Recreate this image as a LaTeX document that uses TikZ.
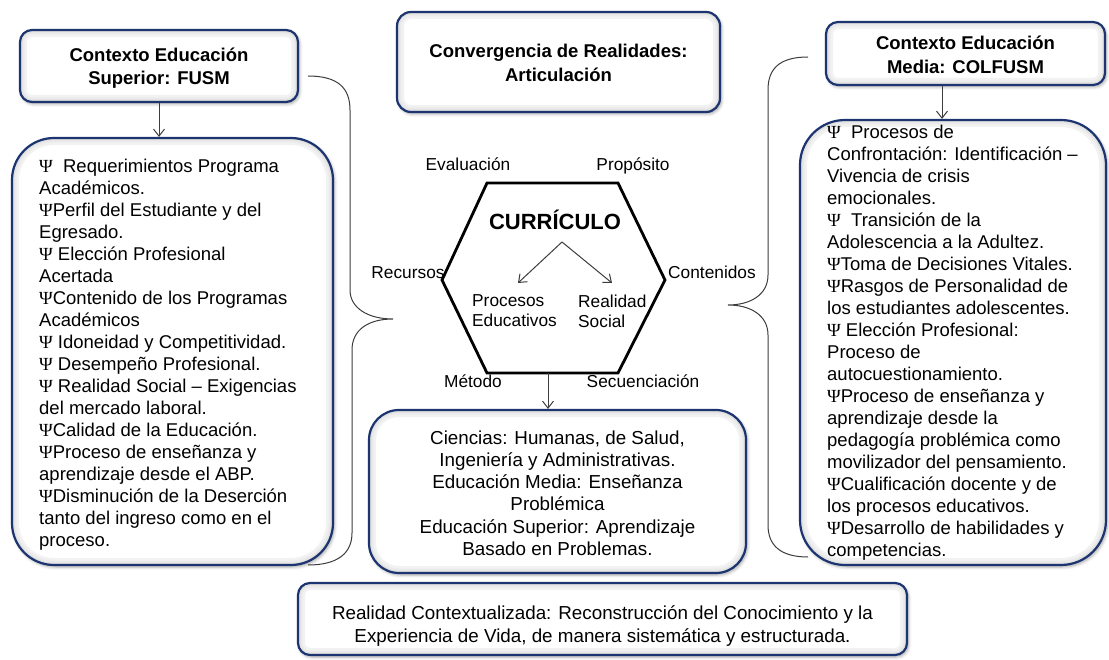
\documentclass[tikz,border=0pt]{standalone}
\usepackage{fontspec}
\setmainfont{Liberation Sans}
\newfontfamily\psifont{Liberation Serif}
\usetikzlibrary{arrows.meta,shadows.blur}
\definecolor{navy}{RGB}{28,52,112}
\definecolor{linegray}{RGB}{60,60,60}
\newcommand\psich{{\psifont Ψ}}
\tikzset{
  box/.style={draw=navy, line width=2.2pt, fill=white, rounded corners=#1, inner sep=0pt,
    blur shadow={shadow xshift=1.5pt, shadow yshift=-2pt, shadow blur radius=3pt, shadow opacity=35},
    path picture={\foreach \w/\c in {14/5,9/8,5/12}{\draw[line width=\w pt, black!\c, rounded corners=#1] (path picture bounding box.south west) rectangle (path picture bounding box.north east);}}},
  titletext/.style={font=\bfseries\fontsize{18.5}{23.5}\selectfont, align=center, inner sep=0pt},
  bodytext/.style={font=\fontsize{18.5}{22}\selectfont, align=left, inner sep=0pt},
  centertext/.style={font=\fontsize{18.8}{22.2}\selectfont, align=center, inner sep=0pt},
  hexlabel/.style={font=\fontsize{17.3}{20}\selectfont, inner sep=0pt, anchor=base},
  arr/.style={draw=linegray, line width=1pt, -{Straight Barb[length=7pt,width=11pt]}},
  bracepath/.style={draw=linegray, line width=1pt},
  hexline/.style={draw=black, line width=2.8pt, line join=miter}
}
\begin{document}
\begin{tikzpicture}[x=1pt,y=-1pt]
\useasboundingbox (0,0) rectangle (1109,660);

% top boxes
\node[box=12pt, minimum width=278pt, minimum height=72pt] (fusm) at (159,66) {};
\node[titletext] (fusmtxt) at (159,68) {Contexto Educación\\Superior: FUSM};
\node[box=14pt, minimum width=323pt, minimum height=100pt] (conv) at (558.5,62) {};
\node[titletext] (convtxt) at (558.5,63) {Convergencia de Realidades:\\Articulación};
\node[box=12pt, minimum width=279pt, minimum height=63pt] (colf) at (965.5,53.5) {};
\node[titletext] (colftxt) at (965.5,55) {Contexto Educación\\Media: COLFUSM};

% big boxes
\node[box=42pt, minimum width=321pt, minimum height=427pt] (leftbig) at (172.5,351.5) {};
\node[box=45pt, minimum width=306pt, minimum height=445pt] (rightbig) at (953,342.5) {};
\node[box=30pt, minimum width=377pt, minimum height=163pt] (centerbox) at (557.5,491.5) {};
\node[box=12pt, minimum width=609pt, minimum height=72pt] (bottombox) at (602.5,619) {};

% list texts
\node[bodytext, anchor=west] (lefttext) at (39,355) {%
\psich\ \ Requerimientos Programa\\
Académicos.\\
\psich Perfil del Estudiante y del\\
Egresado.\\
\psich\ Elección Profesional\\
Acertada\\
\psich Contenido de los Programas\\
Académicos\\
\psich\ Idoneidad y Competitividad.\\
\psich\ Desempeño Profesional.\\
\psich\ Realidad Social – Exigencias\\
del mercado laboral.\\
\psich Calidad de la Educación.\\
\psich Proceso de enseñanza y\\
aprendizaje desde el ABP.\\
\psich Disminución de la Deserción\\
tanto del ingreso como en el\\
proceso.};

\node[bodytext, anchor=west] (righttext) at (827,343) {%
\psich\ \ Procesos de\\
Confrontación: Identificación –\\
Vivencia de crisis\\
emocionales.\\
\psich\ \ Transición de la\\
Adolescencia a la Adultez.\\
\psich Toma de Decisiones Vitales.\\
\psich Rasgos de Personalidad de\\
los estudiantes adolescentes.\\
\psich\ Elección Profesional:\\
Proceso de\\
autocuestionamiento.\\
\psich Proceso de enseñanza y\\
aprendizaje desde la\\
pedagogía problémica como\\
movilizador del pensamiento.\\
\psich Cualificación docente y de\\
los procesos educativos.\\
\psich Desarrollo de habilidades y\\
competencias.};

\node[centertext] (centertxt) at (557.5,493) {Ciencias: Humanas, de Salud,\\Ingeniería y Administrativas.\\Educación Media: Enseñanza\\Problémica\\Educación Superior: Aprendizaje\\Basado en Problemas.};

\node[centertext] (bottomtxt) at (602.5,626) {Realidad Contextualizada: Reconstrucción del Conocimiento y la\\Experiencia de Vida, de manera sistemática y estructurada.};

% hexagon
\coordinate (hTL) at (487,183);
\coordinate (hTR) at (618,183);
\coordinate (hR) at (665,280);
\coordinate (hBR) at (618,373);
\coordinate (hBL) at (487,373);
\coordinate (hL) at (442,280);
\draw[hexline] (hTL) -- (hTR) -- (hR) -- (hBR) -- (hBL) -- (hL) -- cycle;
\coordinate (hexbot) at (548,373);

\node[font=\bfseries\fontsize{22}{24}\selectfont, inner sep=0pt] (curr) at (555,220) {CURRÍCULO};
\coordinate (split) at (562,242);
\node[font=\fontsize{17.3}{20}\selectfont, inner sep=0pt, align=left, anchor=west] (procesos) at (472,311) {Procesos\\Educativos};
\node[font=\fontsize{17.3}{20}\selectfont, inner sep=0pt, align=left, anchor=west] (realidad) at (578,311) {Realidad\\Social};
\coordinate (procTip) at (518,283);
\coordinate (realTip) at (612,283);
\draw[arr] (split) -- (procTip);
\draw[arr] (split) -- (realTip);

\node[hexlabel] (eval) at (468,171) {Evaluación};
\node[hexlabel] (prop) at (633,171) {Propósito};
\node[hexlabel] (recur) at (408,279) {Recursos};
\node[hexlabel] (cont) at (712,279) {Contenidos};
\node[hexlabel] (metodo) at (473,388) {Método};
\node[hexlabel] (secu) at (643,388) {Secuenciación};

% arrows
\draw[arr] (fusm.south) -- (fusm.south |- leftbig.north);
\draw[arr] ([xshift=-23.5pt]colf.south) -- ([xshift=-23.5pt]colf.south |- rightbig.north);
\draw[arr] (hexbot) -- (hexbot |- centerbox.north);

% braces
\coordinate (lbTop) at (308,76);
\coordinate (lbTip) at (393,319);
\coordinate (lbBot) at (308,565);
\draw[bracepath] (lbTop) .. controls (338,76) and (350,88) .. (350,110) -- (350,290)
  .. controls (350,308) and (368,319) .. (lbTip)
  .. controls (368,319) and (352,330) .. (352,350) -- (352,533)
  .. controls (352,553) and (338,565) .. (lbBot);

\coordinate (rbTop) at (808,57);
\coordinate (rbTip) at (728,305);
\coordinate (rbBot) at (808,557);
\draw[bracepath] (rbTop) .. controls (778,57) and (768,70) .. (768,90) -- (768,275)
  .. controls (768,295) and (750,305) .. (rbTip)
  .. controls (750,305) and (768,315) .. (768,335) -- (768,525)
  .. controls (768,545) and (780,557) .. (rbBot);
\end{tikzpicture}
\end{document}
